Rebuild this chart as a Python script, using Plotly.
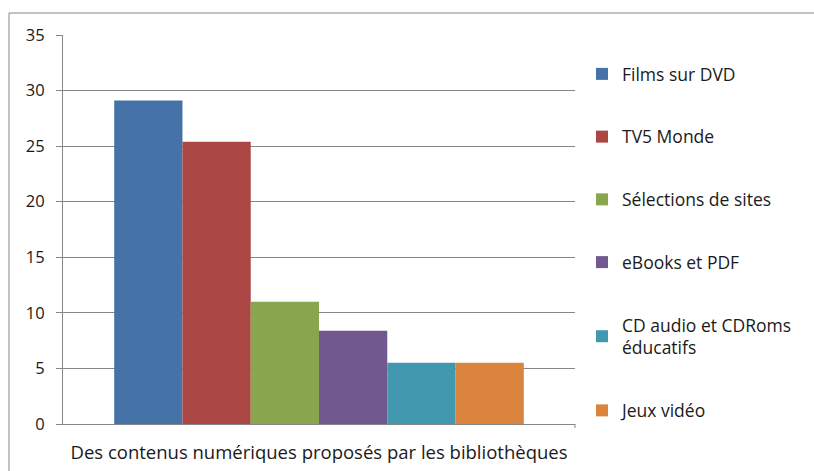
import plotly.graph_objects as go

category = ["Des contenus numériques proposés par les bibliothèques"]
series_names = ["Films sur DVD", "TV5 Monde", "Sélections de sites", "eBooks et PDF",
                "CD audio et CDRoms<br>éducatifs", "Jeux vidéo"]
series_values = [29.1, 25.4, 11.0, 8.4, 5.5, 5.5]
colors = ["#4572A7", "#AA4643", "#89A54E", "#71588F", "#4198AF", "#DB843D"]
y_ticks = [0, 5, 10, 15, 20, 25, 30, 35]

FONT = "Open Sans, Liberation Sans, sans-serif"

fig = go.Figure()
for name, val, col in zip(series_names, series_values, colors):
    fig.add_trace(go.Bar(
        x=category, y=[val], name=name, legendgroup=name,
        marker=dict(color=col, line=dict(width=0)),
    ))

L, R, T, B = 63, 814 - 575, 35, 471 - 424
W, H = 814, 471
pw, ph = W - L - R, H - T - B

fig.update_layout(
    width=W, height=H,
    margin=dict(l=L, r=R, t=T, b=B),
    paper_bgcolor="white", plot_bgcolor="white",
    barmode="group", bargap=0.2, bargroupgap=0,
    font=dict(family=FONT, size=16, color="#1a1a1a"),
    showlegend=True,
    legend=dict(
        x=(582 - L) / pw, y=(424 - 56) / ph, xanchor="left", yanchor="top",
        tracegroupgap=37, font=dict(size=17.5), itemwidth=30,
        traceorder="grouped",
    ),
    xaxis=dict(
        automargin=False,
        showline=True, linecolor="#868686", linewidth=1,
        ticks="outside", ticklen=12, tickcolor="rgba(0,0,0,0)",
        tickfont=dict(size=18.5),
        showgrid=False,
    ),
    yaxis=dict(
        automargin=False,
        range=[0, 35], tickvals=y_ticks,
        showline=True, linecolor="#868686", linewidth=1,
        ticks="outside", ticklen=6, tickcolor="#868686",
        ticklabelstandoff=8,
        showgrid=True, gridcolor="#868686", gridwidth=1,
        tickfont=dict(size=16.5), zeroline=False,
    ),
    shapes=[
        dict(type="rect", xref="paper", yref="paper",
             x0=(9 - L) / pw, x1=(830 - L) / pw,
             y0=(424 - 490) / ph, y1=(424 - 13) / ph,
             line=dict(color="#868686", width=1), fillcolor="rgba(0,0,0,0)", layer="below"),
        dict(type="line", xref="paper", yref="paper",
             x0=1, x1=1, y0=0, y1=-4 / ph,
             line=dict(color="#868686", width=1)),
    ],
)

fig.write_html("out.html")
